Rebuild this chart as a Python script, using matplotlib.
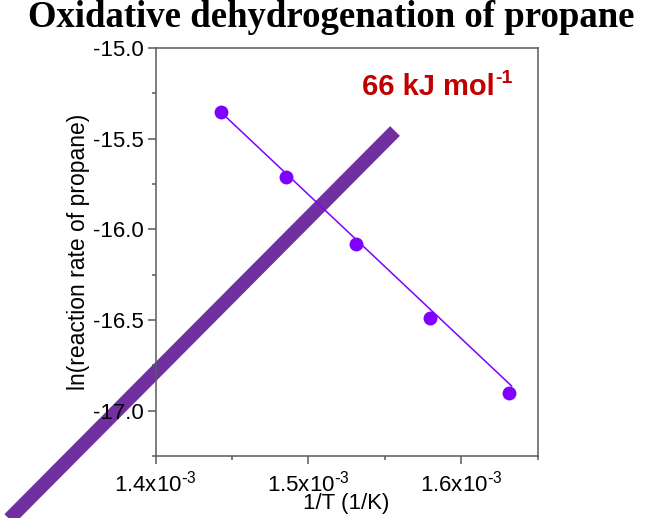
import numpy as np
import matplotlib
matplotlib.use("Agg")
import matplotlib.pyplot as plt
from matplotlib.lines import Line2D
from matplotlib.ticker import FixedLocator, MultipleLocator

# Arrhenius data for propane ODH
inv_T = [1.4427e-3, 1.4856e-3, 1.5314e-3, 1.5793e-3, 1.6311e-3]   # 1/K
ln_rate = [-15.353, -15.712, -16.080, -16.491, -16.903]

# linear fit: ln(r) = b - Ea/(R T)
ea_kj = 66.0
fit_b = -3.901
fit_x = [1.4427e-3, 1.6329e-3]
R = 8.314

x_ticks = [1.4e-3, 1.5e-3, 1.6e-3]
x_ticklabels = [r"1.4x10$^{\text{-}3}$", r"1.5x10$^{\text{-}3}$", r"1.6x10$^{\text{-}3}$"]
y_ticks = [-15.0, -15.5, -16.0, -16.5, -17.0]

plt.rcParams['font.family'] = ['Liberation Sans', 'DejaVu Sans']
plt.rcParams['mathtext.default'] = 'regular'

pt_col = '#8000ff'
spine_col = '#5a5a5a'

fig = plt.figure(figsize=(6.63, 5.18), dpi=100)
ax = fig.add_axes([0.2348, 0.1197, 0.5762, 0.7876])
ax.set_facecolor('none')

fx = np.array(fit_x)
fy = fit_b - ea_kj * 1000 / R * fx
ax.plot(fx, fy, '-', color=pt_col, lw=1.1, zorder=2)
ax.plot(inv_T, ln_rate, 'o', color=pt_col, ms=10, mec='none', zorder=3)

ax.set_xlim(1.4e-3, 1.65e-3)
ax.set_ylim(-17.25, -15.0)
ax.xaxis.set_major_locator(FixedLocator(x_ticks))
ax.set_xticklabels(x_ticklabels)
ax.xaxis.set_minor_locator(MultipleLocator(0.05e-3))
ax.yaxis.set_major_locator(FixedLocator(y_ticks))
ax.set_yticklabels(["%.1f" % v for v in y_ticks])
ax.yaxis.set_minor_locator(MultipleLocator(0.25))

for s in ax.spines.values():
    s.set_color(spine_col)
    s.set_linewidth(1.1)
ax.tick_params(which='major', direction='out', length=5.5, width=1.1,
               color=spine_col, labelsize=16)
ax.tick_params(axis='x', which='major', pad=5)
ax.tick_params(axis='y', which='major', pad=3)
ax.tick_params(which='minor', direction='out', length=3, width=1.1,
               color=spine_col)

ax.set_xlabel('1/T (1/K)', fontsize=16)
ax.set_ylabel('ln(reaction rate of propane)', fontsize=16.5)
ax.xaxis.set_label_coords(0.5, -0.09)
ax.yaxis.set_label_coords(-0.172, 0.5)

ax.text(0.54, 0.885, "66 kJ mol", transform=ax.transAxes,
        fontsize=21, fontweight='bold', color='#c00000', va='baseline')
ax.text(0.89, 0.915, "-1", transform=ax.transAxes,
        fontsize=14, fontweight='bold', color='#c00000', va='baseline')

fig.suptitle('Oxidative dehydrogenation of propane', x=0.5, y=1.0,
             fontsize=26.5, fontweight='bold', family='Liberation Serif',
             va='top')

# diagonal stroke behind the axes contents
fig.add_artist(Line2D([0.0, 0.5958], [-0.02, 0.7471], transform=fig.transFigure,
                      color='#7030a0', lw=9.9, solid_capstyle='butt', zorder=-1))

plt.savefig("out.png", dpi=100)
